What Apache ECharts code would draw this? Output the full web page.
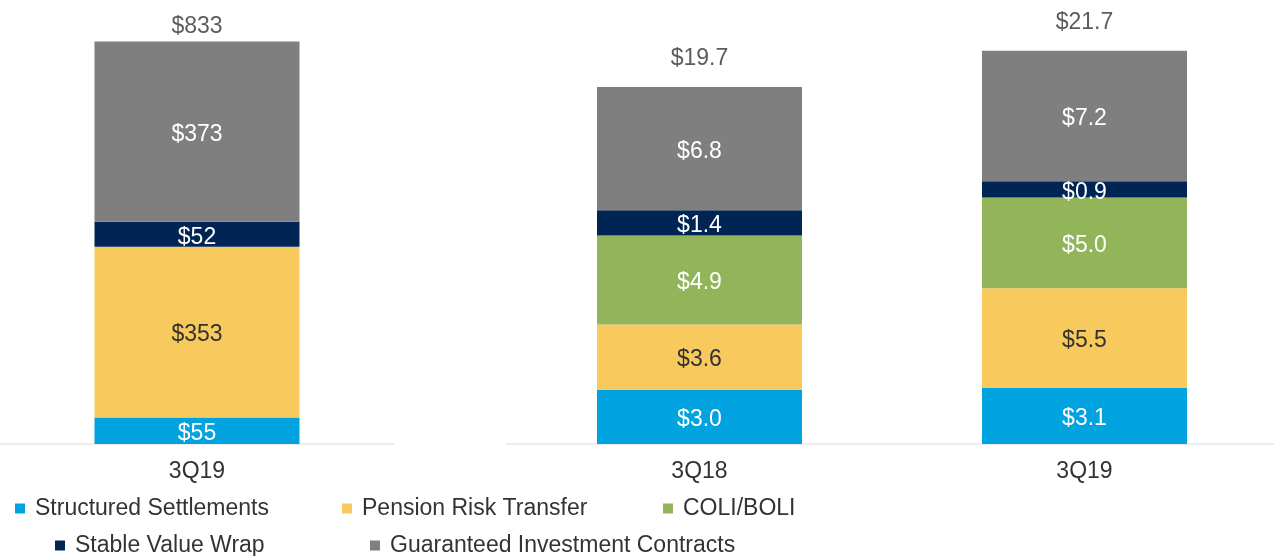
<!DOCTYPE html>
<html>
<head>
<meta charset="utf-8">
<script src="https://cdn.jsdelivr.net/npm/echarts@6/dist/echarts.min.js"></script>
<style>
html,body{margin:0;padding:0;background:#fff;}
#main{width:1274px;height:556px;}
</style>
</head>
<body>
<div id="main"></div>
<script>
// ---- data ----
const seriesNames = ['Structured Settlements', 'Pension Risk Transfer', 'COLI/BOLI', 'Stable Value Wrap', 'Guaranteed Investment Contracts'];
const leftCategories = ['3Q19'];
const rightCategories = ['3Q18', '3Q19'];
// left panel ($ millions)
const leftStructured = [55];
const leftPension = [353];
const leftColi = ['-'];
const leftStableValue = [52];
const leftGic = [373];
const leftTotals = [833];
// right panel ($ billions)
const rightStructured = [3.0, 3.1];
const rightPension = [3.6, 5.5];
const rightColi = [4.9, 5.0];
const rightStableValue = [1.4, 0.9];
const rightGic = [6.8, 7.2];
const rightTotals = [19.7, 21.7];

// ---- styles ----
const colors = ['#00a3e0', '#f8c95d', '#92b55a', '#002554', '#7f7f7f'];
const labelColors = ['#ffffff', '#333333', '#ffffff', '#ffffff', '#ffffff'];
const FONT = '"Liberation Sans", Arial, sans-serif';
const FS = 23;

const leftData = [leftStructured, leftPension, leftColi, leftStableValue, leftGic];
const rightData = [rightStructured, rightPension, rightColi, rightStableValue, rightGic];

function barSeries(name, idx, data, axisIdx, stack, fmt) {
  return {
    name: name,
    type: 'bar',
    stack: stack,
    xAxisIndex: axisIdx,
    yAxisIndex: axisIdx,
    barWidth: 205,
    data: data,
    itemStyle: { color: colors[idx] },
    emphasis: { disabled: true },
    label: {
      show: true,
      position: 'inside',
      offset: [0, 3],
      color: labelColors[idx],
      fontFamily: FONT,
      fontSize: FS,
      formatter: p => fmt(p.value)
    }
  };
}

const series = [];
seriesNames.forEach((n, i) => {
  series.push(barSeries(n, i, leftData[i], 0, 'L', v => '$' + Math.round(v)));
});
seriesNames.forEach((n, i) => {
  series.push(barSeries(n, i, rightData[i], 1, 'R', v => '$' + Number(v).toFixed(1)));
});
// total labels
series.push({
  name: 'totalL', type: 'scatter', xAxisIndex: 0, yAxisIndex: 0,
  data: leftTotals, symbolSize: 1, itemStyle: { color: 'rgba(0,0,0,0)' },
  label: { show: true, position: 'top', distance: 3, color: '#333', fontFamily: FONT, fontSize: FS,
    formatter: p => '$' + Math.round(p.value) }
});
series.push({
  name: 'totalR', type: 'scatter', xAxisIndex: 1, yAxisIndex: 1,
  data: rightTotals, symbolSize: 1, itemStyle: { color: 'rgba(0,0,0,0)' },
  label: { show: true, position: 'top', distance: 16, color: '#333', fontFamily: FONT, fontSize: FS,
    formatter: p => '$' + Number(p.value).toFixed(1) }
});

const legendPos = [
  { name: seriesNames[0], left: 15, top: 497 },
  { name: seriesNames[1], left: 342, top: 497 },
  { name: seriesNames[2], left: 663, top: 497 },
  { name: seriesNames[3], left: 55, top: 534 },
  { name: seriesNames[4], left: 370, top: 534 }
];
const legends = legendPos.map(l => ({
  data: [l.name], left: l.left, top: l.top, padding: 0,
  icon: 'rect', itemWidth: 10, itemHeight: 10,
  selectedMode: false,
  textStyle: { fontFamily: FONT, fontSize: FS, color: '#333', padding: [0, 0, 0, 5] }
}));

const axisCommon = {
  type: 'category',
  axisTick: { show: false },
  axisLine: { show: true, lineStyle: { color: '#ececec', width: 2 } },
  axisLabel: { fontFamily: FONT, fontSize: FS, color: '#333', margin: 16 }
};

const option = {
  animation: false,
  backgroundColor: '#ffffff',
  legend: legends,
  grid: [
    { left: 0, width: 394, top: 9, height: 435, outerBoundsMode: 'none' },
    { left: 507, width: 770, top: 9, height: 435, outerBoundsMode: 'none' }
  ],
  xAxis: [
    Object.assign({ gridIndex: 0, data: leftCategories }, axisCommon),
    Object.assign({ gridIndex: 1, data: rightCategories }, axisCommon)
  ],
  yAxis: [
    { gridIndex: 0, type: 'value', min: 0, max: 900, show: false },
    { gridIndex: 1, type: 'value', min: 0, max: 24, show: false }
  ],
  series: series
};

const chart = echarts.init(document.getElementById('main'), null, { renderer: 'canvas' });
chart.setOption(option);
</script>
</body>
</html>
